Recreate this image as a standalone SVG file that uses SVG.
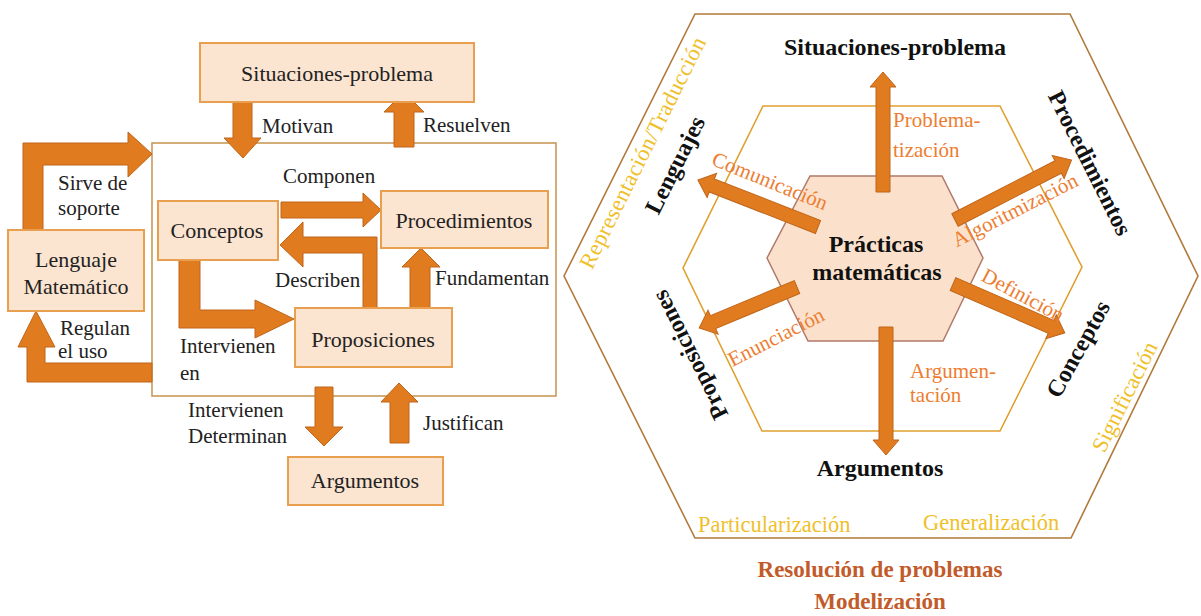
<svg xmlns="http://www.w3.org/2000/svg" width="1201" height="616" viewBox="0 0 1201 616" font-family="'Liberation Serif', 'DejaVu Serif', serif">
<style>
.box{fill:#fbe4d0;stroke:#e8a050;stroke-width:2;}
.bt{font-family:'Liberation Serif','DejaVu Serif',serif;font-size:22px;fill:#222;text-anchor:middle;}
.lb{font-family:'Liberation Serif','DejaVu Serif',serif;font-size:21px;fill:#222;}
.arr{fill:#e07c1f;stroke:#c0651a;stroke-width:1;}
.bold{font-family:'Liberation Serif','DejaVu Serif',serif;font-size:24px;font-weight:bold;fill:#111;text-anchor:middle;}
.or{font-family:'Liberation Serif','DejaVu Serif',serif;font-size:21px;fill:#ed7d31;}
.ye{font-family:'Liberation Serif','DejaVu Serif',serif;font-size:22.5px;fill:#f0c02a;}
.rust{font-family:'Liberation Serif','DejaVu Serif',serif;font-size:23px;font-weight:bold;fill:#c25b2a;text-anchor:middle;}
</style>
<rect width="1201" height="616" fill="#ffffff"/>

<!-- LEFT DIAGRAM -->
<g id="container"><rect x="152" y="143" width="404" height="253" fill="none" stroke="#c89a5a" stroke-width="1.6"/></g>

<g id="connectors-left">
<polygon class="arr" points="233,102 252,102 252,138 261,138 243,158 224,138 233,138"/>
<polygon class="arr" points="394,147 414,147 414,112 424,112 404,92 384,112 394,112"/>
<polygon class="arr" points="23,230 43,230 43,165 128,165 128,177 152,154 128,132 128,143 23,143"/>
<polygon class="arr" points="152,363 152,382 27,382 27,347 18,347 36,311 55,347 45,347 45,363"/>
<polygon class="arr" points="281,202 363,202 363,193 381,210 363,227 363,218 281,218"/>
<polygon class="arr" points="377,308 363,308 363,253 303,253 303,267 280,245 303,222 303,237 377,237"/>
<polygon class="arr" points="410,308 430,308 430,267 440,267 421,248 402,267 410,267"/>
<polygon class="arr" points="179,260 200,260 200,310 255,310 255,300 294,319 255,338 255,328 179,328"/>
<polygon class="arr" points="315,387 333,387 333,427 343,427 324,446 305,427 315,427"/>
<polygon class="arr" points="390,443 409,443 409,402 418,402 399,383 381,402 390,402"/>
<text class="lb" x="262" y="133">Motivan</text>
<text class="lb" x="423" y="132">Resuelven</text>
<text class="lb" x="58" y="190">Sirve de</text>
<text class="lb" x="58" y="215">soporte</text>
<text class="lb" x="60" y="335">Regulan</text>
<text class="lb" x="58" y="358">el uso</text>
<text class="lb" x="283" y="183">Componen</text>
<text class="lb" x="275" y="287">Describen</text>
<text class="lb" x="435" y="285">Fundamentan</text>
<text class="lb" x="180" y="353">Intervienen</text>
<text class="lb" x="180" y="380">en</text>
<text class="lb" x="188" y="417">Intervienen</text>
<text class="lb" x="188" y="443">Determinan</text>
<text class="lb" x="423" y="430">Justifican</text>
</g>

<g id="situaciones-box"><rect class="box" x="200" y="43" width="274" height="59"/><text class="bt" x="337" y="81">Situaciones-problema</text></g>
<g id="lenguaje-box"><rect class="box" x="8" y="230" width="136" height="81"/><text class="bt" x="76" y="267">Lenguaje</text><text class="bt" x="76" y="294">Matemático</text></g>
<g id="conceptos-box"><rect class="box" x="158" y="201" width="120" height="59"/><text class="bt" x="217" y="238">Conceptos</text></g>
<g id="procedimientos-box"><rect class="box" x="381" y="191" width="167" height="57"/><text class="bt" x="464" y="228">Procedimientos</text></g>
<g id="proposiciones-box"><rect class="box" x="295" y="308" width="157" height="59"/><text class="bt" x="373" y="347">Proposiciones</text></g>
<g id="argumentos-box"><rect class="box" x="288" y="457" width="155" height="48"/><text class="bt" x="365" y="488">Argumentos</text></g>

<!-- RIGHT DIAGRAM -->
<g id="outer-hexagon"><polygon points="695,14 1070,14 1198,276 1071,538 695,538 564,276" fill="none" stroke="#b07a3a" stroke-width="1.6"/></g>
<g id="middle-hexagon"><polygon points="763,106 1000,106 1082,267 1000,431 762,431 683,268" fill="none" stroke="#e0a030" stroke-width="1.6"/></g>
<g id="practicas"><polygon points="810,176 942,176 983,258 943,341 808,341 767,258" fill="#fbe1cb" stroke="#b07a6a" stroke-width="1.5"/></g>

<g id="connectors-right">
<path class="arr" transform="translate(883,192) rotate(-90)" d="M0,-7 H105 V-13 L120,0 L105,13 V7 H0 Z"/>
<path class="arr" transform="translate(886,327) rotate(90)" d="M0,-7 H113 V-13 L128,0 L113,13 V7 H0 Z"/>
<path class="arr" transform="translate(818,227) rotate(201.4)" d="M0,-7 H114 V-13 L129,0 L114,13 V7 H0 Z"/>
<path class="arr" transform="translate(955,220) rotate(-27.2)" d="M0,-7 H116 V-13 L131,0 L116,13 V7 H0 Z"/>
<path class="arr" transform="translate(953,284) rotate(23.6)" d="M0,-7 H107 V-13 L122,0 L107,13 V7 H0 Z"/>
<path class="arr" transform="translate(797,287) rotate(157.3)" d="M0,-7 H91 V-13 L106,0 L91,13 V7 H0 Z"/>
<text class="or" transform="translate(770,181) rotate(22)" x="0" y="7" text-anchor="middle">Comunicación</text>
<text class="or" transform="translate(1015,210) rotate(-27)" x="0" y="7" text-anchor="middle">Algoritmización</text>
<text class="or" transform="translate(1023,295) rotate(28)" x="0" y="7" text-anchor="middle">Definición</text>
<text class="or" transform="translate(776,337) rotate(-27)" x="0" y="7" text-anchor="middle">Enunciación</text>
<text class="or" x="893" y="127">Problema-</text>
<text class="or" x="893" y="157">tización</text>
<text class="or" x="910" y="378">Argumen-</text>
<text class="or" x="910" y="402">tación</text>
</g>

<g id="practicas-label"><text class="bold" x="876" y="252">Prácticas</text><text class="bold" x="877" y="280">matemáticas</text></g>
<g id="lbl-situaciones"><text class="bold" x="895" y="55">Situaciones-problema</text></g>
<g id="lbl-lenguajes"><text class="bold" transform="translate(675,165) rotate(-63.4)" x="0" y="8">Lenguajes</text></g>
<g id="lbl-procedimientos"><text class="bold" transform="translate(1090,163) rotate(63.4)" x="0" y="8">Procedimientos</text></g>
<g id="lbl-conceptos"><text class="bold" transform="translate(1078,349) rotate(-61)" x="0" y="8">Conceptos</text></g>
<g id="lbl-proposiciones"><text class="bold" transform="translate(690,355) rotate(-116.6)" x="0" y="8">Proposiciones</text></g>
<g id="lbl-argumentos"><text class="bold" x="880" y="476">Argumentos</text></g>

<g id="processes">
<text class="ye" transform="translate(643,153) rotate(-63.4)" x="0" y="7" text-anchor="middle" textLength="256" lengthAdjust="spacing">Representación/Traducción</text>
<text class="ye" transform="translate(1125,397) rotate(-63.4)" x="0" y="7" text-anchor="middle">Significación</text>
<text class="ye" x="698" y="532">Particularización</text>
<text class="ye" x="923" y="530">Generalización</text>
<text class="rust" x="880" y="577">Resolución de problemas</text>
<text class="rust" x="880" y="609">Modelización</text>
</g>
</svg>
